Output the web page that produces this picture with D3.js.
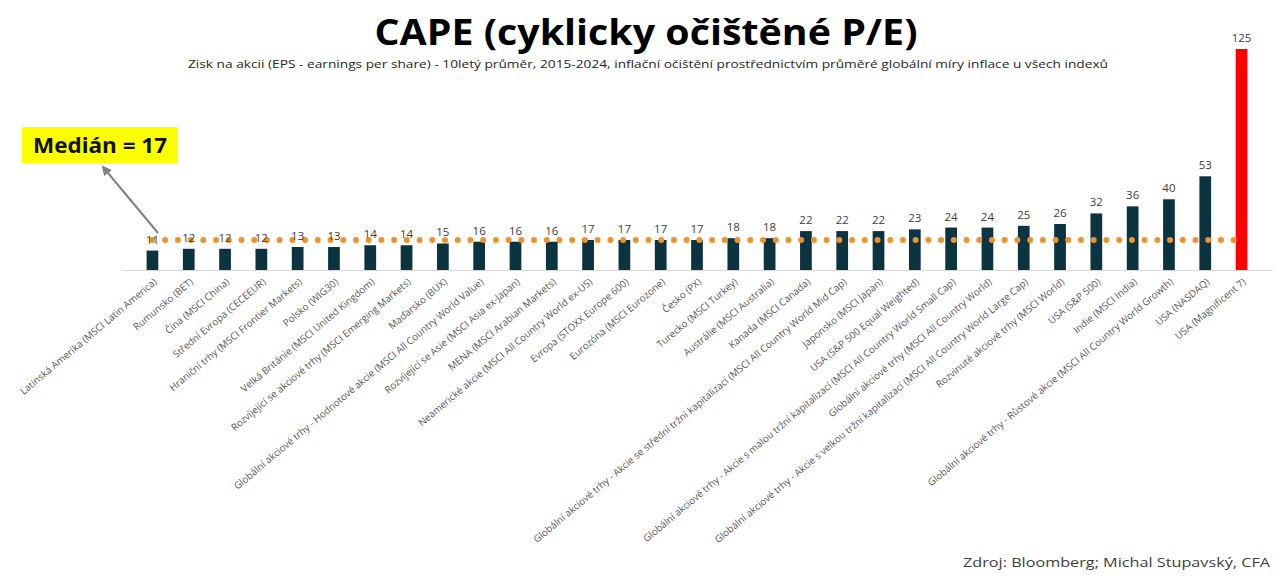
<!DOCTYPE html>
<html>
<head>
<meta charset="utf-8">
<script src="https://cdn.jsdelivr.net/npm/d3@7"></script>
<style>
  body { margin: 0; background: #fff; }
  svg { display: block; }
</style>
</head>
<body>
<svg id="chart" width="1280" height="583"></svg>
<script>
const categories = [
  "Latinská Amerika (MSCI Latin America)",
  "Rumunsko (BET)",
  "Čína (MSCI China)",
  "Střední Evropa (CECEEUR)",
  "Hraniční trhy (MSCI Frontier Markets)",
  "Polsko (WIG30)",
  "Velká Británie (MSCI United Kingdom)",
  "Rozvíjející se akciové trhy (MSCI Emerging Markets)",
  "Maďarsko (BUX)",
  "Globální akciové trhy - Hodnotové akcie (MSCI All Country World Value)",
  "Rozvíjející se Asie (MSCI Asia ex-Japan)",
  "MENA (MSCI Arabian Markets)",
  "Neamerické akcie (MSCI All Country World ex-US)",
  "Evropa (STOXX Europe 600)",
  "Eurozóna (MSCI Eurozone)",
  "Česko (PX)",
  "Turecko (MSCI Turkey)",
  "Austrálie (MSCI Australia)",
  "Kanada (MSCI Canada)",
  "Globální akciové trhy - Akcie se střední tržní kapitalizací (MSCI All Country World Mid Cap)",
  "Japonsko (MSCI Japan)",
  "USA (S&P 500 Equal Weighted)",
  "Globální akciové trhy - Akcie s malou tržní kapitalizací (MSCI All Country World Small Cap)",
  "Globální akciové trhy (MSCI All Country World)",
  "Globální akciové trhy - Akcie s velkou tržní kapitalizací (MSCI All Country World Large Cap)",
  "Rozvinuté akciové trhy (MSCI World)",
  "USA (S&P 500)",
  "Indie (MSCI India)",
  "Globální akciové trhy - Růstové akcie (MSCI All Country World Growth)",
  "USA (NASDAQ)",
  "USA (Magnificent 7)"
];
const capeValues = [11,12,12,12,13,13,14,14,15,16,16,16,17,17,17,17,18,18,22,22,22,23,24,24,25,26,32,36,40,53,125];
const highlighted = ["USA (Magnificent 7)"];
const medianValue = 17;
const titleText = "CAPE (cyklicky očištěné P/E)";
const subtitleText = "Zisk na akcii (EPS - earnings per share) - 10letý průměr, 2015-2024, inflační očištění prostřednictvím průměré globální míry inflace u všech indexů";
const medianLabel = "Medián = 17";
const sourceText = "Zdroj: Bloomberg; Michal Stupavský, CFA";

const data = categories.map((c, i) => ({ cat: c, value: capeValues[i] }));

const svg = d3.select("#chart");
const FONT = "'Open Sans', 'DejaVu Sans', sans-serif";

const x = d3.scaleBand().domain(categories).range([122, 1272]).padding(0.677);
const y = d3.scaleLinear().domain([0, 125]).range([270, 49]);

// Title
svg.append("text")
  .attr("x", 646).attr("y", 45)
  .attr("text-anchor", "middle")
  .attr("font-family", FONT).attr("font-weight", 700).attr("font-size", 35)
  .attr("textLength", 543).attr("lengthAdjust", "spacingAndGlyphs")
  .attr("fill", "#000")
  .text(titleText);

svg.append("text")
  .attr("x", 648).attr("y", 68)
  .attr("text-anchor", "middle")
  .attr("font-family", FONT).attr("font-size", 11)
  .attr("textLength", 920).attr("lengthAdjust", "spacingAndGlyphs")
  .attr("fill", "#262626")
  .text(subtitleText);

// Axis line
svg.append("line")
  .attr("x1", 122).attr("x2", 1273)
  .attr("y1", y(0) + 0.5).attr("y2", y(0) + 0.5)
  .attr("stroke", "#d9d9d9").attr("stroke-width", 1.2);

// Bars
svg.append("g").selectAll("rect").data(data).join("rect")
  .attr("x", d => x(d.cat))
  .attr("width", x.bandwidth())
  .attr("y", d => y(d.value))
  .attr("height", d => y(0) - y(d.value))
  .attr("fill", d => highlighted.includes(d.cat) ? "#ff0000" : "#0b3440");

// Median dotted line
const x0 = x(categories[0]) + x.bandwidth() / 2;
const x1 = x(categories[categories.length - 1]) + x.bandwidth() / 2;
svg.append("line")
  .attr("x1", x0).attr("x2", x1)
  .attr("y1", y(medianValue)).attr("y2", y(medianValue))
  .attr("stroke", "#f0922b").attr("stroke-width", 6)
  .attr("stroke-linecap", "round")
  .attr("stroke-dasharray", "0 12.72");

// Value labels
svg.append("g").selectAll("text").data(data).join("text")
  .attr("x", d => x(d.cat) + x.bandwidth() / 2)
  .attr("y", d => y(d.value) - 7)
  .attr("text-anchor", "middle")
  .attr("font-family", FONT).attr("font-size", 11.5)
  .attr("fill", "#404040")
  .text(d => d.value);

// Category labels (rotated)
svg.append("g").selectAll("text").data(data).join("text")
  .attr("transform", d => `translate(${x(d.cat) + x.bandwidth() / 2 + 5},${y(0) + 13}) rotate(-40)`)
  .attr("text-anchor", "end")
  .attr("font-family", FONT).attr("font-size", 9.8)
  .attr("fill", "#595959")
  .text(d => d.cat);

// Median callout
svg.append("rect")
  .attr("x", 22).attr("y", 127).attr("width", 156).attr("height", 36)
  .attr("fill", "#ffff00");
svg.append("text")
  .attr("x", 100).attr("y", 153)
  .attr("text-anchor", "middle")
  .attr("font-family", FONT).attr("font-weight", 700).attr("font-size", 21)
  .attr("textLength", 134).attr("lengthAdjust", "spacingAndGlyphs")
  .attr("fill", "#111")
  .text(medianLabel);

const defs = svg.append("defs");
defs.append("marker")
  .attr("id", "arrow").attr("viewBox", "0 0 10 10")
  .attr("refX", 8).attr("refY", 5)
  .attr("markerWidth", 5).attr("markerHeight", 5)
  .attr("orient", "auto")
  .append("path").attr("d", "M0,0 L10,5 L0,10 Z").attr("fill", "#808080");

svg.append("line")
  .attr("x1", 158).attr("y1", 233)
  .attr("x2", 103).attr("y2", 167)
  .attr("stroke", "#808080").attr("stroke-width", 2)
  .attr("marker-end", "url(#arrow)");

// Source
svg.append("text")
  .attr("x", 1270).attr("y", 567)
  .attr("text-anchor", "end")
  .attr("font-family", FONT).attr("font-size", 13)
  .attr("textLength", 307).attr("lengthAdjust", "spacingAndGlyphs")
  .attr("fill", "#404040")
  .text(sourceText);
</script>
</body>
</html>
